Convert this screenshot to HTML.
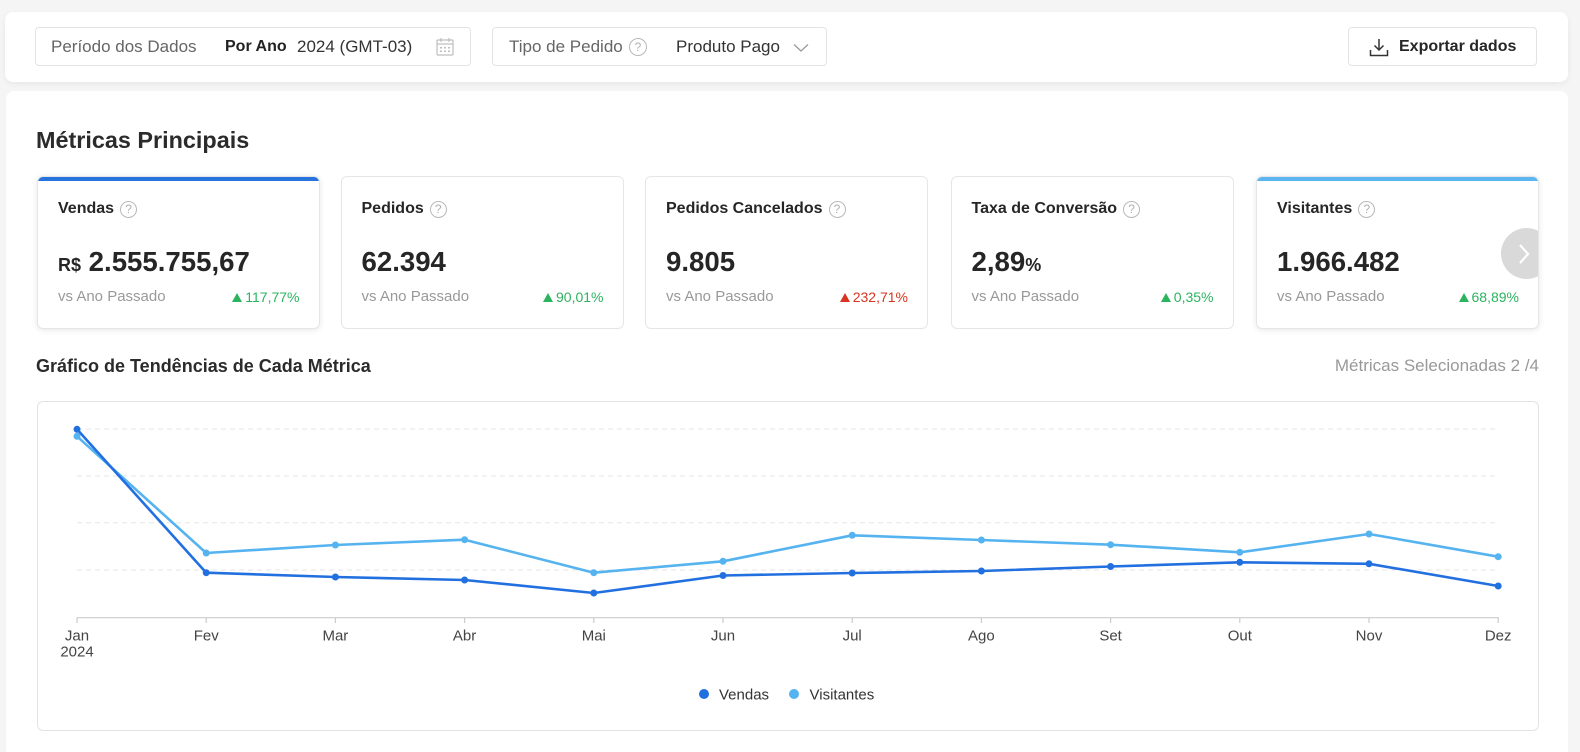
<!DOCTYPE html>
<html>
<head>
<meta charset="utf-8">
<style>
  html{margin:0;padding:0;width:1580px;height:752px;overflow:hidden;}
  body{margin:0;padding:0;width:1580px;height:752px;overflow:hidden;background:#f5f5f5;font-family:"Liberation Sans",Arial,sans-serif;color:#333;position:relative;}
  .abs{position:absolute;}
  .panel{position:absolute;background:#fff;border-radius:8px;}
  .fbox{position:absolute;top:27px;height:39px;border:1px solid #e3e3e3;border-radius:4px;box-sizing:border-box;background:#fff;}
  .ftxt{position:absolute;top:0;line-height:37px;font-size:17px;white-space:nowrap;}
  .help{display:inline-block;box-sizing:border-box;border:1.3px solid #b8b8b8;border-radius:50%;color:#b0b0b0;text-align:center;font-weight:normal;}
  .card{position:absolute;top:176px;width:283px;height:153px;box-sizing:border-box;border:1px solid #e6e6e6;border-radius:6px;background:#fff;overflow:hidden;}
  .card.sel{box-shadow:0 1px 6px rgba(0,0,0,0.10);}
  .bar{position:absolute;left:-1px;right:-1px;top:-1px;height:5px;}
  .ctitle{position:absolute;left:20px;top:22px;line-height:20px;font-size:16px;font-weight:bold;color:#262626;white-space:nowrap;}
  .ctitle .help{width:17px;height:17px;font-size:12px;line-height:15px;margin-left:6px;vertical-align:0px;}
  .cval{position:absolute;left:20px;top:69px;line-height:32px;font-size:27.6px;font-weight:bold;color:#262626;white-space:nowrap;}
  .cval small{font-size:18px;font-weight:bold;}
  .cvs{position:absolute;left:20px;top:111px;line-height:18px;font-size:15px;color:#999;white-space:nowrap;}
  .cpct{position:absolute;right:19px;top:111px;line-height:18px;font-size:14px;white-space:nowrap;}
  .tri{display:inline-block;width:0;height:0;border-left:5.5px solid transparent;border-right:5.5px solid transparent;margin-right:3px;vertical-align:0px;}
  .g{color:#2bb35f;}
  .g .tri{border-bottom:9px solid #2bb35f;}
  .r{color:#d8341f;}
  .r .tri{border-bottom:9px solid #d8341f;}
</style>
</head>
<body>

<!-- top panel -->
<div class="panel" style="left:5px;top:12px;width:1563px;height:70px;box-shadow:0 2px 6px rgba(0,0,0,0.06);"></div>

<div class="fbox" style="left:35px;width:436px;">
  <div class="ftxt" style="left:15px;color:#666;">Período dos Dados</div>
  <div class="ftxt" style="left:189px;font-size:16px;font-weight:bold;color:#222;">Por Ano</div>
  <div class="ftxt" style="left:261px;color:#333;">2024 (GMT-03)</div>
  <svg class="abs" style="left:400px;top:9px;" width="18" height="19" viewBox="0 0 18 19">
    <rect x="1" y="3" width="16" height="15" rx="1" fill="none" stroke="#bdbdbd" stroke-width="1.2"/>
    <line x1="1" y1="7" x2="17" y2="7" stroke="#bdbdbd" stroke-width="1.2"/>
    <line x1="5" y1="1" x2="5" y2="5" stroke="#bdbdbd" stroke-width="1.2"/>
    <line x1="13" y1="1" x2="13" y2="5" stroke="#bdbdbd" stroke-width="1.2"/>
    <g fill="#bdbdbd"><rect x="4" y="10" width="2" height="1.5"/><rect x="8" y="10" width="2" height="1.5"/><rect x="12" y="10" width="2" height="1.5"/><rect x="4" y="13.5" width="2" height="1.5"/><rect x="8" y="13.5" width="2" height="1.5"/><rect x="12" y="13.5" width="2" height="1.5"/></g>
  </svg>
</div>

<div class="fbox" style="left:492px;width:335px;">
  <div class="ftxt" style="left:16px;color:#666;">Tipo de Pedido</div>
  <div class="abs" style="left:136px;top:10px;"><span class="help" style="width:18px;height:18px;font-size:12px;line-height:16px;">?</span></div>
  <div class="ftxt" style="left:183px;color:#333;">Produto Pago</div>
  <svg class="abs" style="left:300px;top:15px;" width="16" height="10" viewBox="0 0 16 10">
    <polyline points="1,1.5 8,8 15,1.5" fill="none" stroke="#9a9a9a" stroke-width="1.3"/>
  </svg>
</div>

<div class="fbox" style="left:1348px;width:189px;">
  <svg class="abs" style="left:20px;top:10px;" width="20" height="19" viewBox="0 0 20 19">
    <line x1="10" y1="1" x2="10" y2="12" stroke="#333" stroke-width="1.5"/>
    <polyline points="5.5,7.5 10,12 14.5,7.5" fill="none" stroke="#333" stroke-width="1.5"/>
    <polyline points="1.5,12 1.5,17.5 18.5,17.5 18.5,12" fill="none" stroke="#333" stroke-width="1.5"/>
  </svg>
  <div class="ftxt" style="left:50px;font-size:16px;font-weight:bold;color:#262626;">Exportar dados</div>
</div>

<!-- main panel -->
<div class="panel" style="left:6px;top:91px;width:1562px;height:661px;border-bottom-left-radius:0;border-bottom-right-radius:0;"></div>

<div class="abs" style="left:36px;top:125.6px;line-height:28px;font-size:23.4px;font-weight:bold;color:#2b2b2b;white-space:nowrap;">Métricas Principais</div>

<!-- cards -->
<div class="card sel" style="left:37px;width:282.5px;">
  <div class="bar" style="background:#2673dd;"></div>
  <div class="ctitle">Vendas<span class="help">?</span></div>
  <div class="cval"><small>R$</small> 2.555.755,67</div>
  <div class="cvs">vs Ano Passado</div>
  <div class="cpct g"><span class="tri"></span>117,77%</div>
</div>

<div class="card" style="left:340.5px;">
  <div class="ctitle">Pedidos<span class="help">?</span></div>
  <div class="cval">62.394</div>
  <div class="cvs">vs Ano Passado</div>
  <div class="cpct g"><span class="tri"></span>90,01%</div>
</div>

<div class="card" style="left:645px;">
  <div class="ctitle">Pedidos Cancelados<span class="help">?</span></div>
  <div class="cval">9.805</div>
  <div class="cvs">vs Ano Passado</div>
  <div class="cpct r"><span class="tri"></span>232,71%</div>
</div>

<div class="card" style="left:950.5px;">
  <div class="ctitle">Taxa de Conversão<span class="help">?</span></div>
  <div class="cval">2,89<small style="font-size:18px;">%</small></div>
  <div class="cvs">vs Ano Passado</div>
  <div class="cpct g"><span class="tri"></span>0,35%</div>
</div>

<div class="card sel" style="left:1256px;">
  <div class="bar" style="background:#5ab5f0;"></div>
  <div class="ctitle">Visitantes<span class="help">?</span></div>
  <div class="cval">1.966.482</div>
  <div class="cvs">vs Ano Passado</div>
  <div class="cpct g"><span class="tri"></span>68,89%</div>
  <div class="abs" style="left:243.5px;top:51px;width:51px;height:51px;border-radius:50%;background:#d9d9d9;"></div>
  <svg class="abs" style="left:260px;top:66px;" width="14" height="22" viewBox="0 0 14 22">
    <polyline points="3,2 11,11 3,20" fill="none" stroke="#fff" stroke-width="2.2"/>
  </svg>
</div>

<!-- chart header -->
<div class="abs" style="left:36px;top:355px;line-height:22px;font-size:18px;font-weight:bold;color:#2b2b2b;white-space:nowrap;">Gráfico de Tendências de Cada Métrica</div>
<div class="abs" style="right:41px;top:355.6px;line-height:20px;font-size:17px;color:#999;white-space:nowrap;">Métricas Selecionadas 2 /4</div>

<!-- chart box -->
<div class="abs" style="left:36.5px;top:400.5px;width:1502px;height:330px;box-sizing:border-box;border:1px solid #e3e3e3;border-radius:6px;background:#fff;"></div>

<svg class="abs" style="left:0;top:0;" width="1580" height="752" viewBox="0 0 1580 752">
  <g stroke="#e6e6e6" stroke-width="1" stroke-dasharray="5,4">
    <line x1="77" y1="429" x2="1499" y2="429"/>
    <line x1="77" y1="476" x2="1499" y2="476"/>
    <line x1="77" y1="522.7" x2="1499" y2="522.7"/>
    <line x1="77" y1="570" x2="1499" y2="570"/>
  </g>
  <line x1="77" y1="617.7" x2="1499" y2="617.7" stroke="#cccccc" stroke-width="1.2"/>
  <g stroke="#cccccc" stroke-width="1.2">
    <line x1="77" y1="617.7" x2="77" y2="623"/>
    <line x1="206.2" y1="617.7" x2="206.2" y2="623"/>
    <line x1="335.4" y1="617.7" x2="335.4" y2="623"/>
    <line x1="464.6" y1="617.7" x2="464.6" y2="623"/>
    <line x1="593.8" y1="617.7" x2="593.8" y2="623"/>
    <line x1="723" y1="617.7" x2="723" y2="623"/>
    <line x1="852.2" y1="617.7" x2="852.2" y2="623"/>
    <line x1="981.4" y1="617.7" x2="981.4" y2="623"/>
    <line x1="1110.6" y1="617.7" x2="1110.6" y2="623"/>
    <line x1="1239.8" y1="617.7" x2="1239.8" y2="623"/>
    <line x1="1369" y1="617.7" x2="1369" y2="623"/>
    <line x1="1498.2" y1="617.7" x2="1498.2" y2="623"/>
  </g>
  <g font-family="Liberation Sans, Arial, sans-serif" font-size="15" fill="#444" text-anchor="middle">
    <text x="77" y="640.7">Jan</text>
    <text x="77" y="656.7">2024</text>
    <text x="206.2" y="640.7">Fev</text>
    <text x="335.4" y="640.7">Mar</text>
    <text x="464.6" y="640.7">Abr</text>
    <text x="593.8" y="640.7">Mai</text>
    <text x="723" y="640.7">Jun</text>
    <text x="852.2" y="640.7">Jul</text>
    <text x="981.4" y="640.7">Ago</text>
    <text x="1110.6" y="640.7">Set</text>
    <text x="1239.8" y="640.7">Out</text>
    <text x="1369" y="640.7">Nov</text>
    <text x="1498.2" y="640.7">Dez</text>
  </g>

  <!-- Visitantes -->
  <polyline fill="none" stroke="#55b3f0" stroke-width="2.6" stroke-linejoin="round"
    points="77,436.3 206.2,553 335.4,545 464.6,539.7 593.8,572.7 723,561.3 852.2,535.3 981.4,540 1110.6,544.7 1239.8,552.3 1369,534 1498.2,556.7"/>
  <g fill="#55b3f0">
    <circle cx="77" cy="436.3" r="3.5"/><circle cx="206.2" cy="553" r="3.5"/><circle cx="335.4" cy="545" r="3.5"/>
    <circle cx="464.6" cy="539.7" r="3.5"/><circle cx="593.8" cy="572.7" r="3.5"/><circle cx="723" cy="561.3" r="3.5"/>
    <circle cx="852.2" cy="535.3" r="3.5"/><circle cx="981.4" cy="540" r="3.5"/><circle cx="1110.6" cy="544.7" r="3.5"/>
    <circle cx="1239.8" cy="552.3" r="3.5"/><circle cx="1369" cy="534" r="3.5"/><circle cx="1498.2" cy="556.7" r="3.5"/>
  </g>

  <!-- Vendas -->
  <polyline fill="none" stroke="#2270e0" stroke-width="2.6" stroke-linejoin="round"
    points="77,429.3 206.2,572.7 335.4,577 464.6,580 593.8,593 723,575.5 852.2,573 981.4,571 1110.6,566.5 1239.8,562.3 1369,563.8 1498.2,586"/>
  <g fill="#2270e0">
    <circle cx="77" cy="429.3" r="3.5"/><circle cx="206.2" cy="572.7" r="3.5"/><circle cx="335.4" cy="577" r="3.5"/>
    <circle cx="464.6" cy="580" r="3.5"/><circle cx="593.8" cy="593" r="3.5"/><circle cx="723" cy="575.5" r="3.5"/>
    <circle cx="852.2" cy="573" r="3.5"/><circle cx="981.4" cy="571" r="3.5"/><circle cx="1110.6" cy="566.5" r="3.5"/>
    <circle cx="1239.8" cy="562.3" r="3.5"/><circle cx="1369" cy="563.8" r="3.5"/><circle cx="1498.2" cy="586" r="3.5"/>
  </g>

  <!-- legend -->
  <circle cx="704" cy="694" r="5" fill="#2270e0"/>
  <text x="719" y="699.5" font-family="Liberation Sans, Arial, sans-serif" font-size="15" fill="#333">Vendas</text>
  <circle cx="794" cy="694" r="5" fill="#55b3f0"/>
  <text x="809.5" y="699.5" font-family="Liberation Sans, Arial, sans-serif" font-size="15" fill="#333">Visitantes</text>
</svg>

</body>
</html>
